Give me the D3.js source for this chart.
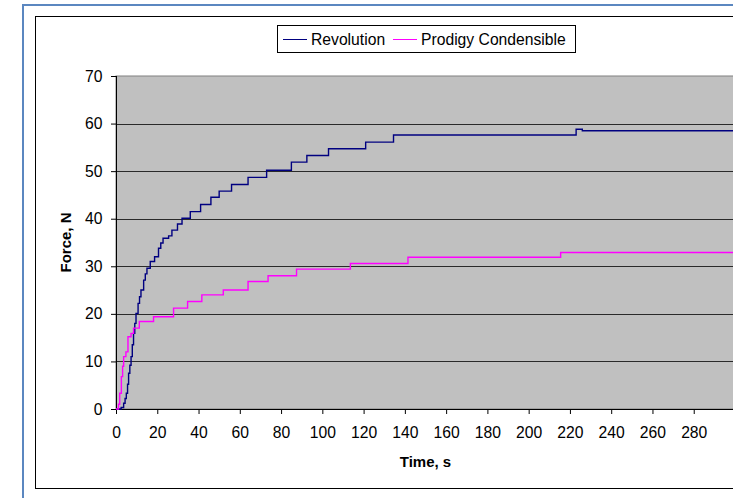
<!DOCTYPE html>
<html>
<head>
<meta charset="utf-8">
<script src="https://cdn.jsdelivr.net/npm/d3@7"></script>
<style>
  body { margin: 0; background: #fff; }
  svg { display: block; font-family: "Liberation Sans", Arial, sans-serif; }
  .axis text { font-size: 15.7px; fill: #000; }
  .axis path, .axis line { stroke: #000; }
  .title { font-size: 15px; font-weight: bold; }
</style>
</head>
<body>
<div id="chart"></div>
<script>
// Revolution series (time s, force N), step-wise readings
const revTime  = [0, 2.5, 3.7, 4.4, 5, 5.6, 6.1, 6.7, 7.3, 7.9, 8.5, 9.1, 9.7, 10.7, 11.4, 12.1, 13.4, 14.2, 15, 16.6, 18.7, 20.6, 21.7, 22.8, 25.5, 27.1, 29.8, 32, 36, 41, 46, 50, 56, 64, 73, 85, 92.5, 103, 121, 134.5, 223, 226, 300];
const revForce = [0, 0.3, 1.2, 2.2, 3.3, 5.2, 7.5, 9.2, 11, 13.5, 15.9, 18, 20.1, 22.2, 23.6, 25, 27.1, 28.4, 29.6, 31, 32, 33.8, 34.9, 35.9, 36.4, 37.6, 38.9, 40.1, 41.5, 43, 44.5, 45.8, 47.2, 48.7, 50.2, 51.9, 53.3, 54.7, 56.1, 57.6, 58.8, 58.5, 58.5];

// Prodigy Condensible series
const proTime  = [0, 1.2, 1.8, 2.6, 3.2, 3.7, 4.8, 5.8, 7.3, 8.5, 11.3, 18.2, 27.9, 34.7, 41.6, 52, 64, 73.7, 87.5, 113.6, 141.5, 215.5, 300];
const proForce = [0, 1, 3.3, 6.8, 9, 11, 12, 15.2, 15.9, 17, 18.4, 19.4, 21.2, 22.6, 24, 25, 26.8, 28, 29.4, 30.6, 31.9, 32.9, 32.8];

const xTicks = d3.range(0, 281, 20);
const yTicks = d3.range(0, 71, 10);
const seriesNames = ["Revolution", "Prodigy Condensible"];
const seriesColors = ["#000080", "#ff00ff"];

const width = 733, height = 498;
const plot = { left: 116, top: 76, right: 735, bottom: 409 };

const svg = d3.select("#chart").append("svg")
    .attr("width", width)
    .attr("height", height);

// document frame + chart border (both run off the right edge)
svg.append("rect")
    .attr("x", 23).attr("y", 5)
    .attr("width", 800).attr("height", 600)
    .attr("fill", "none")
    .attr("stroke", "#5b87c0")
    .attr("stroke-width", 2);

svg.append("rect")
    .attr("x", 35.5).attr("y", 16.5)
    .attr("width", 800).attr("height", 472)
    .attr("fill", "#fff")
    .attr("stroke", "#000");

const x = d3.scaleLinear().domain([0, 300]).range([plot.left, plot.right]);
const y = d3.scaleLinear().domain([0, 70]).range([plot.bottom, plot.top]);

// plot area
svg.append("rect")
    .attr("x", plot.left).attr("y", plot.top)
    .attr("width", plot.right - plot.left)
    .attr("height", plot.bottom - plot.top)
    .attr("fill", "#c0c0c0")
    .attr("stroke", "#808080");

// horizontal gridlines
svg.append("g")
  .selectAll("line")
  .data(yTicks.filter(d => d > 0 && d < 70))
  .enter().append("line")
    .attr("x1", plot.left).attr("x2", plot.right)
    .attr("y1", d => Math.round(y(d)) + 0.5)
    .attr("y2", d => Math.round(y(d)) + 0.5)
    .attr("stroke", "#2a2a2a");

const xAxis = d3.axisBottom(x).tickValues(xTicks).tickSize(5).tickPadding(13).tickFormat(d3.format("d"));
const yAxis = d3.axisLeft(y).tickValues(yTicks).tickSize(5).tickPadding(8.5).tickFormat(d3.format("d"));

svg.append("g")
    .attr("class", "x axis")
    .attr("transform", `translate(0, ${plot.bottom})`)
    .call(xAxis)
    .call(g => g.select(".domain").attr("d", `M${plot.left},0.5H${plot.right}`));

svg.append("g")
    .attr("class", "y axis")
    .attr("transform", `translate(${plot.left}, 0)`)
    .call(yAxis)
    .call(g => g.select(".domain").attr("d", `M0.5,${plot.top}V${plot.bottom}`));

// the two step lines
const line = d3.line()
    .x(d => x(d[0]))
    .y(d => y(d[1]))
    .curve(d3.curveStepAfter);

const series = [
  d3.zip(revTime, revForce),
  d3.zip(proTime, proForce)
];

svg.append("g")
  .selectAll("path")
  .data(series)
  .enter().append("path")
    .attr("d", line)
    .attr("fill", "none")
    .attr("stroke", (d, i) => seriesColors[i])
    .attr("stroke-width", 1.4);

// axis titles
svg.append("text")
    .attr("class", "title")
    .attr("x", (plot.left + plot.right) / 2)
    .attr("y", 467)
    .attr("text-anchor", "middle")
    .text("Time, s");

svg.append("text")
    .attr("class", "title")
    .attr("transform", `translate(70.5, ${(plot.top + plot.bottom) / 2}) rotate(-90)`)
    .attr("text-anchor", "middle")
    .text("Force, N");

// legend
const legend = svg.append("g");
legend.append("rect")
    .attr("x", 277.5).attr("y", 25.5)
    .attr("width", 298).attr("height", 27)
    .attr("fill", "#fff")
    .attr("stroke", "#000");

const legendX = [283, 393];
seriesNames.forEach((name, i) => {
  legend.append("line")
      .attr("x1", legendX[i]).attr("x2", legendX[i] + 24)
      .attr("y1", 39.5).attr("y2", 39.5)
      .attr("stroke", seriesColors[i]);
  legend.append("text")
      .attr("x", legendX[i] + 28)
      .attr("y", 45)
      .style("font-size", "15.7px")
      .text(name);
});
</script>
</body>
</html>
